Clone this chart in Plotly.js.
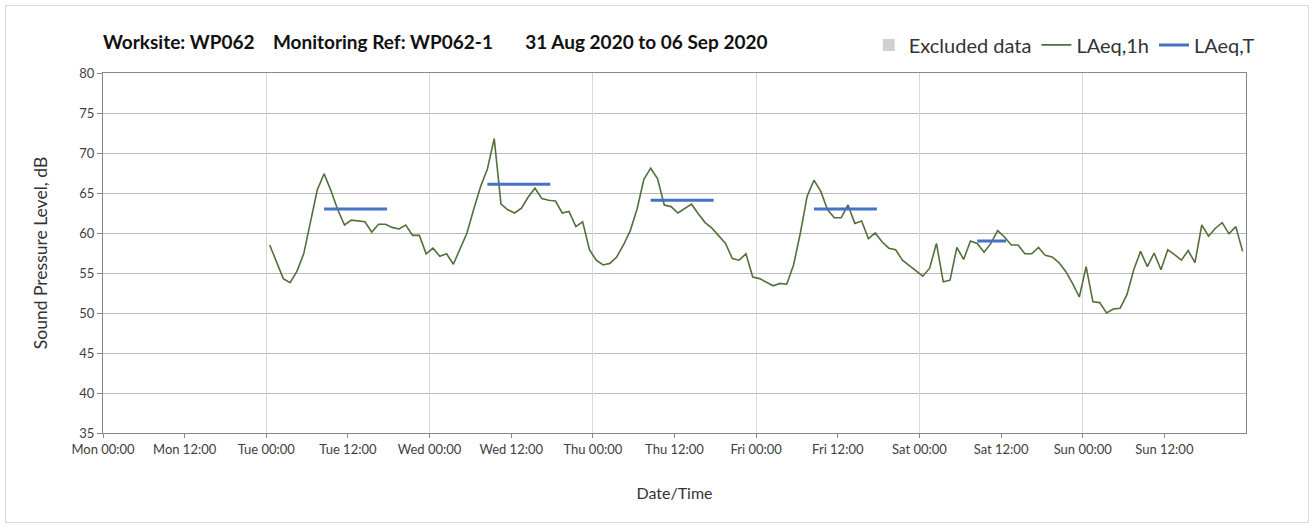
<!DOCTYPE html>
<html>
<head>
<meta charset="utf-8">
<script src="https://cdn.plot.ly/plotly-3.0.1.min.js"></script>
<style>
  body { margin: 0; background: #fff; }
  #wrap { position: relative; width: 1314px; height: 528px; }
  #myDiv { width: 1314px; height: 528px; }
  #frame { position: absolute; left: 5px; top: 5px; right: 5px; bottom: 5px;
           border: 1px solid #d9d9d9; pointer-events: none; }
</style>
</head>
<body>
<div id="wrap">
  <div id="myDiv"></div>
  <div id="frame"></div>
</div>
<script>
// hourly LAeq,1h readings, one array per day (Tue 1 Sep .. Sun 6 Sep 2020)
var tue = [58.5, 56.3, 54.3, 53.8, 55.2, 57.4, 61.3, 65.4, 67.4, 65.3, 62.9, 61.0,
           61.6, 61.5, 61.4, 60.1, 61.1, 61.1, 60.7, 60.5, 61.0, 59.7, 59.7, 57.4];
var wed = [58.1, 57.1, 57.4, 56.1, 58.0, 60.0, 63.0, 65.8, 68.0, 71.8, 63.6, 62.9,
           62.5, 63.1, 64.5, 65.6, 64.3, 64.1, 64.0, 62.5, 62.7, 60.8, 61.4, 57.9];
var thu = [56.6, 56.0, 56.2, 57.0, 58.5, 60.3, 63.0, 66.7, 68.1, 66.8, 63.5, 63.3,
           62.5, 63.1, 63.6, 62.4, 61.3, 60.6, 59.7, 58.7, 56.8, 56.6, 57.4, 54.5];
var fri = [54.3, 53.9, 53.4, 53.7, 53.6, 56.0, 60.0, 64.6, 66.6, 65.2, 62.9, 61.9,
           61.9, 63.5, 61.2, 61.5, 59.3, 60.0, 58.9, 58.1, 57.9, 56.6, 55.9, 55.3];
var sat = [54.6, 55.6, 58.7, 53.9, 54.1, 58.2, 56.7, 59.0, 58.7, 57.6, 58.7, 60.3,
           59.5, 58.5, 58.5, 57.4, 57.4, 58.2, 57.2, 57.0, 56.3, 55.2, 53.7, 52.0];
var sun = [55.8, 51.4, 51.3, 50.0, 50.5, 50.6, 52.3, 55.4, 57.7, 55.8, 57.5, 55.4,
           57.9, 57.3, 56.6, 57.8, 56.3, 61.0, 59.6, 60.6, 61.3, 59.9, 60.8, 57.7];

// LAeq,T daytime periods
var tStart = ['2020-09-01 08:30', '2020-09-02 08:30', '2020-09-03 08:30', '2020-09-04 08:30', '2020-09-05 08:30'];
var tEnd   = ['2020-09-01 17:45', '2020-09-02 17:45', '2020-09-03 17:45', '2020-09-04 17:45', '2020-09-05 12:45'];
var tLevel = [63.0, 66.1, 64.1, 63.0, 59.0];

// no excluded periods in this week
var exclTimes = ['2020-08-31 00:00'];
var exclLevel = [null];

// x tick positions (labelled Mon 00:00 .. Sun 12:00)
var tickTimes = ['2020-08-31 00:00', '2020-08-31 12:00', '2020-09-01 00:00', '2020-09-01 12:00',
                 '2020-09-02 00:00', '2020-09-02 12:00', '2020-09-03 00:00', '2020-09-03 12:00',
                 '2020-09-04 00:00', '2020-09-04 12:00', '2020-09-05 00:00', '2020-09-05 12:00',
                 '2020-09-06 00:00', '2020-09-06 12:00'];

var hourly = tue.concat(wed, thu, fri, sat, sun);

// readings are plotted at the middle of each hour
var hourTimes = [];
var t0 = Date.UTC(2020, 8, 1, 0, 30);
for (var i = 0; i < hourly.length; i++) {
  hourTimes.push(new Date(t0 + i * 3600000).toISOString().slice(0, 16).replace('T', ' '));
}

var tx = [], ty = [];
for (var j = 0; j < tLevel.length; j++) {
  tx.push(tStart[j], tEnd[j], null);
  ty.push(tLevel[j], tLevel[j], null);
}

var excluded = {
  x: exclTimes, y: exclLevel,
  type: 'bar',
  name: 'Excluded data',
  marker: { color: '#d0d0d0' }
};

var laeq1h = {
  x: hourTimes,
  y: hourly,
  type: 'scatter',
  mode: 'lines',
  name: 'LAeq,1h',
  line: { color: '#52703a', width: 1.6 }
};

var laeqT = {
  x: tx,
  y: ty,
  xaxis: 'x2',
  type: 'scatter',
  mode: 'lines',
  name: 'LAeq,T',
  line: { color: '#4472c4', width: 3 }
};

var data = [excluded, laeq1h, laeqT];

var range = ['2020-08-31 00:00', '2020-09-07 00:00'];
var nb = function (n) { return new Array(n + 1).join('\u00a0'); };

var layout = {
  width: 1314,
  height: 528,
  margin: { l: 103, r: 68, t: 73, b: 95 },
  paper_bgcolor: '#fff',
  plot_bgcolor: '#fff',
  font: { family: 'Lato, sans-serif', size: 13, color: '#404040' },
  showlegend: true,
  title: {
    text: '<b>Worksite: WP062' + nb(4) + 'Monitoring Ref: WP062-1' + nb(7) + '31 Aug 2020 to 06 Sep 2020</b>',
    font: { family: 'Lato, sans-serif', size: 19, color: '#111' },
    xref: 'paper', x: 0, xanchor: 'left',
    yref: 'container', y: 0.92, yanchor: 'middle'
  },
  legend: {
    orientation: 'h',
    xref: 'paper', x: 1.012, xanchor: 'right',
    yref: 'paper', y: 1.078, yanchor: 'middle',
    font: { family: 'Lato, sans-serif', size: 20, color: '#333' },
    bgcolor: 'rgba(0,0,0,0)'
  },
  xaxis: {
    type: 'date',
    range: range,
    tickmode: 'array',
    tickvals: tickTimes,
    tickformat: '%a %H:%M',
    ticks: 'outside',
    ticklen: 4,
    tickcolor: '#888',
    showgrid: false,
    zeroline: false,
    showline: true,
    mirror: true,
    linecolor: '#888',
    linewidth: 1,
    fixedrange: true,
    title: { text: 'Date/Time', font: { size: 16, color: '#333' }, standoff: 32 }
  },
  xaxis2: {
    type: 'date',
    overlaying: 'x',
    anchor: 'y',
    range: range,
    tick0: '2020-08-31 00:00',
    dtick: 86400000,
    showgrid: true,
    gridcolor: '#d9d9d9',
    showticklabels: false,
    ticks: '',
    showline: false,
    zeroline: false,
    fixedrange: true
  },
  yaxis: {
    range: [35, 80],
    dtick: 5,
    ticks: 'outside',
    ticklen: 5,
    tickcolor: '#888',
    showgrid: true,
    gridcolor: '#b8b8b8',
    zeroline: false,
    showline: true,
    mirror: true,
    linecolor: '#888',
    fixedrange: true,
    title: { text: 'Sound Pressure Level, dB', font: { size: 17.5, color: '#333' }, standoff: 27 }
  }
};

Plotly.newPlot('myDiv', data, layout, { displayModeBar: false, staticPlot: true });
</script>
</body>
</html>
